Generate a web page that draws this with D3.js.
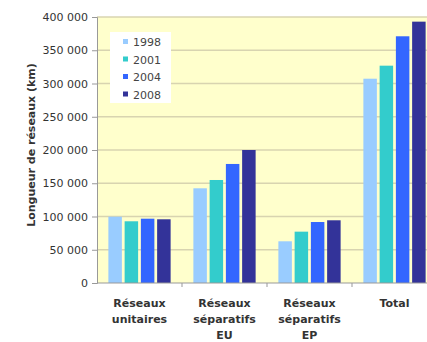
<!DOCTYPE html>
<html>
<head>
<meta charset="utf-8">
<script src="https://cdn.jsdelivr.net/npm/d3@7"></script>
<style>
  body { margin: 0; background: #fff; }
  svg { display: block; font-family: "DejaVu Sans", sans-serif; }
</style>
</head>
<body>
<script>
const categories = [["Réseaux", "unitaires"], ["Réseaux", "séparatifs", "EU"], ["Réseaux", "séparatifs", "EP"], ["Total"]];
const years = ["1998", "2001", "2004", "2008"];
const colors = ["#99ccff", "#33cccc", "#3366ff", "#333399"];
const v1998 = [99700, 142400, 62700, 307200];
const v2001 = [92800, 154900, 77200, 326800];
const v2004 = [96700, 179000, 91700, 371000];
const v2008 = [95800, 200000, 94300, 393000];
const yTicks = [0, 50000, 100000, 150000, 200000, 250000, 300000, 350000, 400000];

const series = [v1998, v2001, v2004, v2008];
const width = 427, height = 342;
const margin = {left: 97, top: 17, right: -10, bottom: 59};

const svg = d3.select("body").append("svg").attr("width", width).attr("height", height);

const x = d3.scaleBand()
    .domain(d3.range(categories.length))
    .range([margin.left, width - margin.right]);
const xs = d3.scaleBand()
    .domain(d3.range(years.length))
    .range([0, x.bandwidth()])
    .paddingInner(0.17)
    .paddingOuter(0.7);
const y = d3.scaleLinear()
    .domain([0, 400000])
    .range([height - margin.bottom, margin.top]);

// fond de la zone de tracé
svg.append("rect")
    .attr("x", margin.left).attr("y", margin.top)
    .attr("width", width - margin.right - margin.left)
    .attr("height", y(0) - margin.top)
    .attr("fill", "#ffffcc");

// quadrillage
svg.append("g").selectAll("line")
    .data(yTicks.slice(1))
    .join("line")
    .attr("x1", margin.left).attr("x2", width - margin.right)
    .attr("y1", d => y(d)).attr("y2", d => y(d))
    .attr("stroke", "#d8d4b0").attr("stroke-width", 1.3);

// barres
const groups = svg.append("g").selectAll("g")
    .data(categories)
    .join("g")
    .attr("transform", (d, i) => `translate(${x(i)},0)`);
groups.selectAll("rect")
    .data((d, i) => series.map((s, j) => ({j: j, v: s[i]})))
    .join("rect")
    .attr("x", d => xs(d.j))
    .attr("width", xs.bandwidth())
    .attr("y", d => y(d.v))
    .attr("height", d => y(0) - y(d.v))
    .attr("fill", d => colors[d.j]);

// axe y
const yAxis = svg.append("g")
    .attr("transform", `translate(${margin.left},0)`)
    .call(d3.axisLeft(y).tickValues(yTicks).tickSize(5).tickPadding(4)
        .tickFormat(d => d3.format(",")(d).replace(/,/g, " ")));
yAxis.select(".domain").attr("stroke", "#999");
yAxis.selectAll(".tick line").attr("stroke", "#999");
yAxis.selectAll("text").attr("font-size", 11).attr("fill", "#333")
    .attr("font-family", "DejaVu Sans");

// axe x
const xAxisG = svg.append("g").attr("transform", `translate(0,${y(0)})`);
xAxisG.append("line")
    .attr("x1", margin.left).attr("x2", width - margin.right)
    .attr("stroke", "#999");
xAxisG.selectAll(".sep")
    .data(d3.range(1, categories.length))
    .join("line")
    .attr("x1", i => x(i)).attr("x2", i => x(i))
    .attr("y1", 0).attr("y2", 4)
    .attr("stroke", "#999");
const labels = xAxisG.selectAll(".cat")
    .data(categories)
    .join("text")
    .attr("text-anchor", "middle")
    .attr("font-size", 11).attr("font-weight", "bold").attr("fill", "#333")
    .attr("transform", (d, i) => `translate(${x(i) + x.bandwidth() / 2},24)`);
labels.selectAll("tspan")
    .data(d => d)
    .join("tspan")
    .attr("x", 0)
    .attr("dy", (d, i) => i === 0 ? 0 : 16)
    .text(d => d);

// titre axe y
svg.append("text")
    .attr("transform", `translate(35,${(margin.top + y(0)) / 2 - 5}) rotate(-90)`)
    .attr("text-anchor", "middle")
    .attr("font-size", 11).attr("font-weight", "bold").attr("fill", "#333")
    .text("Longueur de réseaux (km)");

// légende
const legend = svg.append("g").attr("transform", "translate(110,32)");
legend.append("rect").attr("width", 61).attr("height", 71).attr("fill", "#fff");
const items = legend.selectAll(".item")
    .data(years)
    .join("g")
    .attr("transform", (d, i) => `translate(13,${10 + i * 17.5})`);
items.append("rect")
    .attr("x", 0).attr("y", -3).attr("width", 5).attr("height", 5)
    .attr("fill", (d, i) => colors[i]);
items.append("text")
    .attr("x", 10).attr("y", 4)
    .attr("font-size", 11).attr("fill", "#444")
    .text(d => d);
</script>
</body>
</html>
